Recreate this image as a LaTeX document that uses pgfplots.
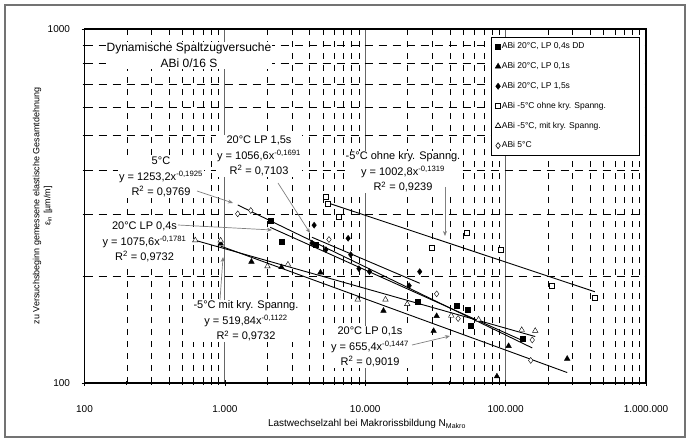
\documentclass[border=0pt]{standalone}
\usepackage{fontspec}
\setmainfont{Liberation Sans}
\usepackage{pgfplots}
\pgfplotsset{compat=1.18}
\usetikzlibrary{arrows.meta}
\newcommand{\annot}{\fontsize{11}{15.7}\selectfont}
\begin{document}
\begin{tikzpicture}[x=1pt,y=1pt]
\useasboundingbox (0,0) rectangle (690,441);
\fill[white] (0,0) rectangle (690,441);
\draw[black!55, line width=1.2pt] (5,4) rectangle (685,436);
\begin{axis}[
  at={(84.5pt,58pt)}, anchor=south west,
  scale only axis, width=561.5pt, height=354pt,
  xmode=log, ymode=log,
  xmin=100, xmax=1000000, ymin=100, ymax=1000,
  xtick={100,1000,10000,100000,1000000},
  xticklabels={100,1.000,10.000,100.000,1.000.000},
  ytick={100,1000}, yticklabels={100,1000},
  minor xtick={200,300,400,500,600,700,800,900,2000,3000,4000,5000,6000,7000,8000,9000,20000,30000,40000,50000,60000,70000,80000,90000,200000,300000,400000,500000,600000,700000,800000,900000},
  minor ytick={200,300,400,500,600,700,800,900},
  xtick pos=left, ytick pos=left,
  tick align=center, major tick length=6pt, minor tick length=4pt,
  tick style={black, line width=0.6pt},
  xminorgrids=true, yminorgrids=true, xmajorgrids=true, ymajorgrids=false,
  minor x grid style={black, line width=0.5pt, dash pattern=on 6pt off 6pt},
  minor y grid style={black, line width=0.5pt, dash pattern=on 8pt off 6pt},
  major x grid style={black!60, solid, line width=0.8pt},
  axis line style={black, line width=1.2pt},
  ticklabel style={font=\fontsize{10}{12}\selectfont},
  xticklabel style={yshift=-16pt},
  yticklabel style={xshift=-8pt},
  clip=false,
  legend cell align=left,
  legend image code/.code={\draw[mark repeat=2,mark phase=2,#1] plot coordinates {(0pt,0pt) (5pt,0pt) (10pt,0pt)};},
  legend style={at={(0.724,0.977)}, anchor=north west, draw=black, line width=0.6pt, fill=white,
    inner sep=4pt, font=\fontsize{8.5}{10}\selectfont, row sep=9.3pt,
    nodes={inner sep=1pt, text height=6.5pt, text depth=2pt},
    /tikz/every odd column/.append style={column sep=0pt}},
]
% ABi 20C LP 0,4s DD
\addplot[only marks, mark=square*, mark size=2.5pt, black] coordinates {
(2105,287.4) (2521,251.3) (4404,246.5) (23460,169.4) (44480,165.0) (53270,161.5) (55960,144.9) (131300,133.1)};
\addlegendentry{\makebox[132pt][l]{ABi 20°C, LP 0,4s DD}}
% ABi 20C LP 0,1s
\addplot[only marks, mark=triangle*, mark size=3.2pt, black] coordinates {
(933,247.7) (1546,220.1) (2530,212.4) (4796,205.2) (13480,160.0) (32250,154.6) (30700,140.3) (105000,127.2) (86700,104.4) (274600,117.1)};
\addlegendentry{ABi 20°C, LP 0,1s}
% ABi 20C LP 1,5s
\addplot[only marks, mark=diamond*, mark size=3pt, black] coordinates {
(4325,279.1) (4172,248.5) (5250,238.0) (7553,256.3) (7882,230.4) (9017,210.3) (10710,206.3) (20550,188.3) (24440,206.3)};
\addlegendentry{ABi 20°C, LP 1,5s}
% ABi -5C ohne
\addplot[only marks, mark=square*, mark size=2.5pt, black, mark options={fill=white, draw=black}] coordinates {
(5206,336.9) (5362,321.9) (6423,295.0) (29870,241.7) (52580,266.2) (92130,238.0) (214400,188.8) (432500,174.4)};
\addlegendentry{ABi -5°C ohne kry. Spanng.}
% ABi -5C mit
\addplot[only marks, mark=triangle*, mark size=3.2pt, black, mark options={fill=white, draw=black}] coordinates {
(615.3,252.9) (933,252.6) (2011,213.6) (2814,216.1) (8842,172.1) (13930,172.1) (19910,167.1) (40990,155.0) (64120,151.1) (130200,141.2) (162500,140.4)};
\addlegendentry{ABi -5°C, mit kry. Spanng.}
% ABi 5C
\addplot[only marks, mark=diamond*, mark size=3pt, black, mark options={fill=white, draw=black}] coordinates {
(1234,300.5) (1530,307.1) (5514,254.3) (32250,178.6) (45880,152.1) (154700,132.3) (150900,115.8)};
\addlegendentry{ABi 5°C}
% trend lines
\addplot[black, line width=0.9pt, forget plot] coordinates {(2105,275.25) (131300,131.90)};
\addplot[black, line width=0.9pt, forget plot] coordinates {(933,243.65) (274600,107.03)};
\addplot[black, line width=0.9pt, forget plot] coordinates {(4172,258.03) (24440,191.34)};
\addplot[black, line width=0.9pt, forget plot] coordinates {(5206,324.34) (432500,181.03)};
\addplot[black, line width=0.9pt, forget plot] coordinates {(615.3,252.89) (162500,135.27)};
\addplot[black, line width=0.9pt, forget plot] coordinates {(1234,318.35) (154700,125.62)};
% title
\node[font=\fontsize{12}{15.6}\selectfont, align=center, fill=white, inner sep=1pt] at (rel axis cs:0.1861,0.9251) {Dynamische Spaltzugversuche\\ABi 0/16 S};
% annotations
\node[font=\annot, align=center, fill=white, inner sep=1pt] at (rel axis cs:0.3108,0.6412) {20°C LP 1,5s\\y = 1056,6x\textsuperscript{-0,1691}\\R\textsuperscript{2} = 0,7103};
\node[font=\annot, align=center, fill=white, inner sep=1pt] at (rel axis cs:0.1362,0.5819) {5°C\\y = 1253,2x\textsuperscript{-0,1925}\\R\textsuperscript{2} = 0,9769};
\node[font=\annot, align=center, fill=white, inner sep=1pt] at (rel axis cs:0.1069,0.3983) {20°C LP 0,4s\\y = 1075,6x\textsuperscript{-0,1781}\\R\textsuperscript{2} = 0,9732};
\node[font=\annot, align=center, fill=white, inner sep=1pt] at (rel axis cs:0.2876,0.1751) {-5°C mit kry. Spanng.\\y = 519,84x\textsuperscript{-0,1122}\\R\textsuperscript{2} = 0,9732};
\node[font=\annot, align=center, fill=white, inner sep=1pt] at (rel axis cs:0.5672,0.5960) {-5°C ohne kry. Spanng.\\y = 1002,8x\textsuperscript{-0,1319}\\R\textsuperscript{2} = 0,9239};
\node[font=\annot, align=center, fill=white, inner sep=1pt] at (rel axis cs:0.5085,0.1017) {20°C LP 0,1s\\y = 655,4x\textsuperscript{-0,1447}\\R\textsuperscript{2} = 0,9019};
% arrows
\begin{scope}[black!50, line width=0.7pt, -{Stealth[length=5pt,width=4pt]}]
\draw (rel axis cs:0.3446,0.5650) -- (rel axis cs:0.4016,0.4237);
\draw (rel axis cs:0.2004,0.5424) -- (rel axis cs:0.2645,0.5085);
\draw (rel axis cs:0.1665,0.4463) -- (rel axis cs:0.3339,0.4322);
\draw (rel axis cs:0.2413,0.2345) -- (rel axis cs:0.2467,0.3559);
\draw (rel axis cs:0.6420,0.5537) -- (rel axis cs:0.6420,0.4153);
\draw (rel axis cs:0.5833,0.1073) -- (rel axis cs:0.6509,0.1328);
\end{scope}
% axis labels
\node[font=\fontsize{10}{12}\selectfont] at (rel axis cs:0.5031,-0.1158) {Lastwechselzahl bei Makrorissbildung N\textsubscript{Makro}};
\node[font=\fontsize{9}{11}\selectfont, align=center, rotate=90] at (rel axis cs:-0.0748,0.5) {zu Versuchsbeginn gemessene elastische Gesamtdehnung\\ε\textsubscript{in} [µm/m]};
\end{axis}
\end{tikzpicture}
\end{document}
